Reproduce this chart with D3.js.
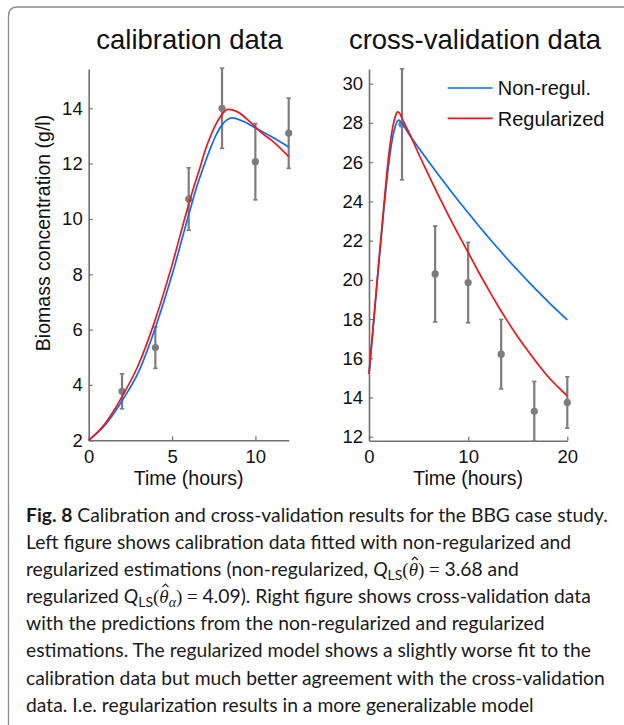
<!DOCTYPE html>
<html>
<head>
<meta charset="utf-8">
<script src="https://cdn.jsdelivr.net/npm/d3@7/dist/d3.min.js"></script>
<style>
  html, body { margin: 0; padding: 0; background: #fff; }
  svg { display: block; }
</style>
</head>
<body>
<svg id="fig" width="624" height="725"></svg>
<script>
// ---- Calibration experiment (biomass, g/l) ----
const calTime  = [2, 4, 6, 8, 10, 12];
const calValue = [3.77, 5.35, 10.72, 14.0, 12.07, 13.1];
const calError = [0.63, 0.75, 1.13, 1.45, 1.38, 1.27];

// model fits to calibration data
const calNonRegT = [0, 1, 2, 3, 4, 5, 6, 6.5, 6.9, 7.3, 7.6, 8.0, 8.3, 8.6, 9.3, 10.0, 11.0, 12];
const calNonRegY = [2.0, 2.56, 3.43, 4.48, 6.07, 7.98, 10.15, 11.2, 11.9, 12.55, 12.98, 13.4, 13.58, 13.65, 13.52, 13.29, 12.96, 12.6];
const calRegT = [0, 1, 2, 3, 4, 5, 5.8, 6.3, 6.7, 7.0, 7.3, 7.7, 8.0, 8.35, 8.9, 9.7, 10.4, 11.0, 12];
const calRegY = [2.0, 2.62, 3.58, 4.75, 6.37, 8.34, 10.1, 11.15, 11.9, 12.5, 12.98, 13.5, 13.78, 13.96, 13.88, 13.5, 13.1, 12.83, 12.25];

// ---- Cross-validation experiment ----
const cvTime  = [3.33, 6.67, 10, 13.33, 16.67, 20];
const cvValue = [27.93, 20.3, 19.86, 16.21, 13.3, 13.75];
const cvError = [2.83, 2.45, 2.05, 1.77, 1.52, 1.31];

// model predictions for the cross-validation run
const cvNonRegT = [0, 0.5, 1.0, 1.5, 2.0, 2.4, 2.7, 3.0, 3.3, 4, 5, 6, 7, 8, 9, 10, 11, 12, 13, 14, 15, 16, 17, 18, 19, 20];
const cvNonRegY = [15.2, 18.0, 20.9, 23.6, 25.95, 27.3, 27.9, 28.14, 28.0, 27.45, 26.74, 26.04, 25.36, 24.70, 24.05, 23.42, 22.80, 22.20, 21.61, 21.04, 20.49, 19.95, 19.43, 18.92, 18.43, 17.96];
const cvRegT = [0, 0.5, 1.0, 1.5, 2.0, 2.4, 2.7, 2.9, 3.1, 3.4, 4, 5, 6, 7, 8, 9, 10, 11, 12, 13, 14, 15, 16, 17, 18, 19, 20];
const cvRegY = [15.2, 18.1, 21.0, 23.8, 26.4, 27.8, 28.4, 28.56, 28.48, 28.15, 27.55, 26.43, 25.35, 24.31, 23.30, 22.33, 21.40, 20.45, 19.55, 18.68, 17.87, 17.10, 16.40, 15.73, 15.10, 14.57, 14.08];

// axis ticks and labels
const calXTicks = [0, 5, 10];
const calYTicks = [2, 4, 6, 8, 10, 12, 14];
const cvXTicks  = [0, 10, 20];
const cvYTicks  = [12, 14, 16, 18, 20, 22, 24, 26, 28, 30];
const seriesNames = ["Non-regul.", "Regularized"];
const titles = ["calibration data", "cross-validation data"];
const xLabel = "Time (hours)";
const yLabel = "Biomass concentration (g/l)";

// caption: each line is a list of [style, text] runs
const caption = [
  [["b", "Fig. 8"], ["n", " Calibration and cross-validation results for the BBG case study."]],
  [["n", "Left figure shows calibration data fitted with non-regularized and"]],
  [["n", "regularized estimations (non-regularized, "], ["i", "Q"], ["sub", "LS"], ["m", "("], ["hat", "\u03B8"], ["m", ") = "], ["n", "3.68 and"]],
  [["n", "regularized "], ["i", "Q"], ["sub", "LS"], ["m", "("], ["hat", "\u03B8"], ["msub", "\u03B1"], ["m", ") = "], ["n", "4.09). Right figure shows cross-validation data"]],
  [["n", "with the predictions from the non-regularized and regularized"]],
  [["n", "estimations. The regularized model shows a slightly worse fit to the"]],
  [["n", "calibration data but much better agreement with the cross-validation"]],
  [["n", "data. I.e. regularization results in a more generalizable model"]]
];

const BLUE = "#0a6cff", RED = "#f41414", GRAY = "#7d7d7d", AXIS = "#707070";
const plotFont = "'Liberation Sans', Arial, Helvetica, sans-serif";

const svg = d3.select("#fig");

// outer panel frame with rounded corner
svg.append("path")
  .attr("d", "M8.5,725 L8.5,16 Q8.5,7 17.5,7 L624,7")
  .attr("fill", "none").attr("stroke", "#8a8a8a").attr("stroke-width", 1.3);

function panel(opts) {
  const g = svg.append("g");
  const x = d3.scaleLinear().domain(opts.xDomain).range(opts.xRange);
  const y = d3.scaleLinear().domain(opts.yDomain).range(opts.yRange);

  // axes (inward ticks)
  const ax = g.append("g").attr("transform", `translate(0,${opts.yRange[0]})`)
    .call(d3.axisBottom(x).tickValues(opts.xTicks).tickSizeInner(-4).tickSizeOuter(0).tickPadding(9));
  const ay = g.append("g").attr("transform", `translate(${opts.xRange[0]},0)`)
    .call(d3.axisLeft(y).tickValues(opts.yTicks).tickSizeInner(-4).tickSizeOuter(0).tickPadding(6));
  [ax, ay].forEach(a => {
    a.select(".domain").attr("stroke", AXIS).attr("stroke-width", 1.6);
    a.selectAll(".tick line").attr("stroke", AXIS).attr("stroke-width", 1.2);
    a.selectAll(".tick text").attr("fill", "#111").style("font-family", plotFont).style("font-size", "18.5px");
  });
  ax.selectAll(".tick text").attr("dy", "0.72em");

  // error bars
  const eb = g.append("g");
  opts.pts.t.forEach((t, i) => {
    const v = opts.pts.v[i], e = opts.pts.e[i];
    const cx = x(t);
    eb.append("line").attr("x1", cx).attr("x2", cx).attr("y1", y(v - e)).attr("y2", y(v + e))
      .attr("stroke", GRAY).attr("stroke-width", 2.2);
    [v - e, v + e].forEach(w => {
      eb.append("line").attr("x1", cx - 2.2).attr("x2", cx + 2.2).attr("y1", y(w)).attr("y2", y(w))
        .attr("stroke", GRAY).attr("stroke-width", 1.6);
    });
    eb.append("circle").attr("cx", cx).attr("cy", y(v)).attr("r", 3.6).attr("fill", GRAY);
  });

  // model curves
  const line = d3.line().x(d => x(d[0])).y(d => y(d[1])).curve(d3.curveMonotoneX);
  opts.curves.forEach(c => {
    g.append("path").datum(d3.zip(c.t, c.y)).attr("d", line)
      .attr("fill", "none").attr("stroke", c.color).attr("stroke-width", 1.7);
  });

  // title
  g.append("text").attr("x", opts.titleX).attr("y", 49).attr("text-anchor", "middle")
    .style("font-family", plotFont).style("font-size", "27.5px").attr("fill", "#111").text(opts.title);
  // x label
  g.append("text").attr("x", (opts.xRange[0] + opts.xRange[1]) / 2).attr("y", 485).attr("text-anchor", "middle")
    .style("font-family", plotFont).style("font-size", "19.5px").attr("fill", "#111").text(xLabel);
  return { g, x, y };
}

panel({
  xDomain: [0, 12], xRange: [88.7, 288.7],
  yDomain: [2, 15.42], yRange: [440.3, 69],
  xTicks: calXTicks, yTicks: calYTicks,
  pts: { t: calTime, v: calValue, e: calError },
  curves: [
    { t: calNonRegT, y: calNonRegY, color: BLUE },
    { t: calRegT, y: calRegY, color: RED }
  ],
  title: titles[0], titleX: 189.5
});

panel({
  xDomain: [0, 20], xRange: [369, 567.3],
  yDomain: [11.8, 30.75], yRange: [440.7, 69],
  xTicks: cvXTicks, yTicks: cvYTicks,
  pts: { t: cvTime, v: cvValue, e: cvError },
  curves: [
    { t: cvNonRegT, y: cvNonRegY, color: BLUE },
    { t: cvRegT, y: cvRegY, color: RED }
  ],
  title: titles[1], titleX: 475
});

// y axis label (left panel)
svg.append("text")
  .attr("transform", "translate(50,233) rotate(-90)")
  .attr("text-anchor", "middle")
  .style("font-family", plotFont).style("font-size", "19.5px").attr("fill", "#111")
  .text(yLabel);

// legend
const legend = svg.append("g");
[BLUE, RED].forEach((c, i) => {
  const ly = 88 + i * 30.3;
  legend.append("line").attr("x1", 447.7).attr("x2", 492.7).attr("y1", ly).attr("y2", ly)
    .attr("stroke", c).attr("stroke-width", 1.7);
  legend.append("text").attr("x", 497.7).attr("y", ly + 7.3)
    .style("font-family", plotFont).style("font-size", "20px").attr("fill", "#111")
    .text(seriesNames[i]);
});

// caption
const capFont = "Lato, 'Open Sans', sans-serif";
const mathFont = "'Liberation Serif', 'DejaVu Serif', serif";
const cap = svg.append("g");
caption.forEach((runs, li) => {
  const baseY = 521.7 + li * 27.15;
  const t = cap.append("text").attr("x", 26).attr("y", baseY)
    .style("font-family", capFont).style("font-size", "19.3px").attr("fill", "#1a1a1a");
  let shift = 0;        // pending vertical correction for the next run
  const hatted = [];
  runs.forEach(([style, str]) => {
    const s = t.append("tspan").text(str);
    let dy = shift; shift = 0;
    if (style === "b") s.style("font-weight", "bold");
    if (style === "i") s.style("font-style", "italic");
    if (style === "sub") { s.style("font-size", "14px"); dy += 3.5; shift = -3.5; }
    if (style === "m") s.style("font-family", mathFont).style("font-size", "19px");
    if (style === "hat") { s.style("font-family", mathFont).style("font-style", "italic").style("font-size", "19px"); hatted.push(s); }
    if (style === "msub") { s.style("font-family", mathFont).style("font-style", "italic").style("font-size", "14px"); dy += 3.5; shift = -3.5; }
    if (dy) s.attr("dy", dy);
  });
  // circumflex accent over each estimated parameter, drawn as a small stroke
  hatted.forEach(s => {
    const b = s.node().getBBox();
    const cx = b.x + b.width / 2 + 1.5, top = baseY - 19;
    cap.append("path")
      .attr("d", `M${cx - 3},${top + 3} L${cx},${top} L${cx + 3},${top + 3}`)
      .attr("fill", "none").attr("stroke", "#1a1a1a").attr("stroke-width", 1.1);
  });
});
</script>
</body>
</html>
